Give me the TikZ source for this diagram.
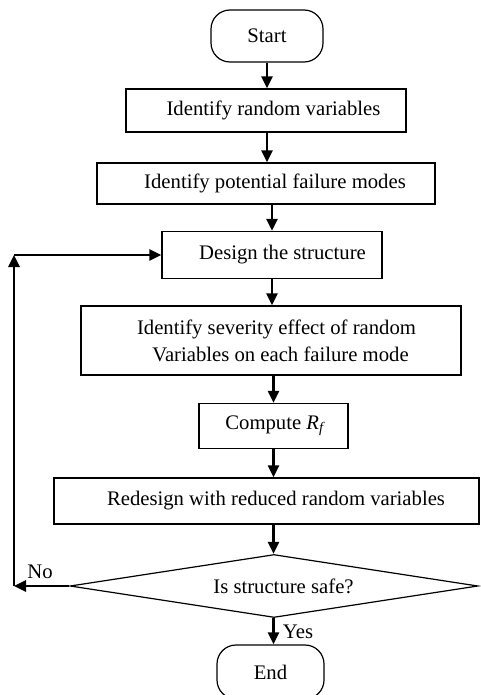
\documentclass[tikz,border=0pt]{standalone}
\usepackage{fontspec}
\setmainfont{Liberation Serif}
\usetikzlibrary{arrows.meta,shapes.geometric}

\begin{document}
\begin{tikzpicture}[x=1pt,y=-1pt,
  every node/.style={font=\fontsize{20.7}{27}\selectfont, inner sep=0pt},
  procbox/.style={draw, line width=1.2pt, rectangle},
  termbox/.style={draw, line width=1.2pt, rectangle, rounded corners=19pt},
  decbox/.style={draw, line width=1.2pt, diamond, shape aspect=6.5, minimum width=408pt, minimum height=63pt},
  flow/.style={line width=2.6pt, -{Triangle[length=12pt,width=11pt]}}
]
\useasboundingbox (0,0) rectangle (480,695);

% process chain
\node[termbox, minimum width=112pt, minimum height=52pt] (start) at (267,36) {Start};
\node[procbox, minimum width=280pt, minimum height=43pt] (b1) at (266,110.5) {\hspace*{15pt}Identify random variables};
\node[procbox, minimum width=338pt, minimum height=41pt] (b2) at (266,183.5) {\hspace*{18pt}Identify potential failure modes};
\node[procbox, minimum width=220pt, minimum height=47pt] (b3) at (272,255) {\hspace*{21pt}Design the structure};
\node[procbox, minimum width=380pt, minimum height=69pt, align=center] (b4) at (271,340.5)
  {\hspace*{11pt}Identify severity effect of random\\ \hspace*{19pt}Variables on each failure mode};
\node[procbox, minimum width=149pt, minimum height=45pt] (b5) at (273.5,426) {\hspace*{2pt}Compute \textit{R\textsubscript{f}}};
\node[procbox, minimum width=425pt, minimum height=46pt] (b6) at (266.5,501) {\hspace*{19pt}Redesign with reduced random variables};
\node[decbox] (dec) at (274,586) {\hspace*{19pt}Is structure safe?};
\node[termbox, minimum width=107pt, minimum height=54pt] (end) at (270.5,672) {End};

% feedback path corners
\coordinate (c1) at (14,586);
\coordinate (c2) at (14,255);

% connectors
\draw[flow] (start.south) -- (start.south |- b1.north);
\draw[flow] (start.south |- b1.south) -- (start.south |- b2.north);
\draw[flow] (b3.north |- b2.south) -- (b3.north);
\draw[flow] (b3.south) -- (b3.south |- b4.north);
\draw[flow] (b5.north |- b4.south) -- (b5.north);
\draw[flow] (b5.south) -- (b5.south |- b6.north);
\draw[flow] (b5.south |- b6.south) -- (b5.south |- dec.north);
\draw[flow] (b5.south |- dec.south) -- (b5.south |- end.north);
\draw[flow] (dec.west) -- (c1);
\draw[flow] (c1) -- (c2);
\draw[flow] (c2) -- (b3.west);

% branch labels
\node (no) at (40,572) {No};
\node (yes) at (298,632) {Yes};
\end{tikzpicture}
\end{document}
